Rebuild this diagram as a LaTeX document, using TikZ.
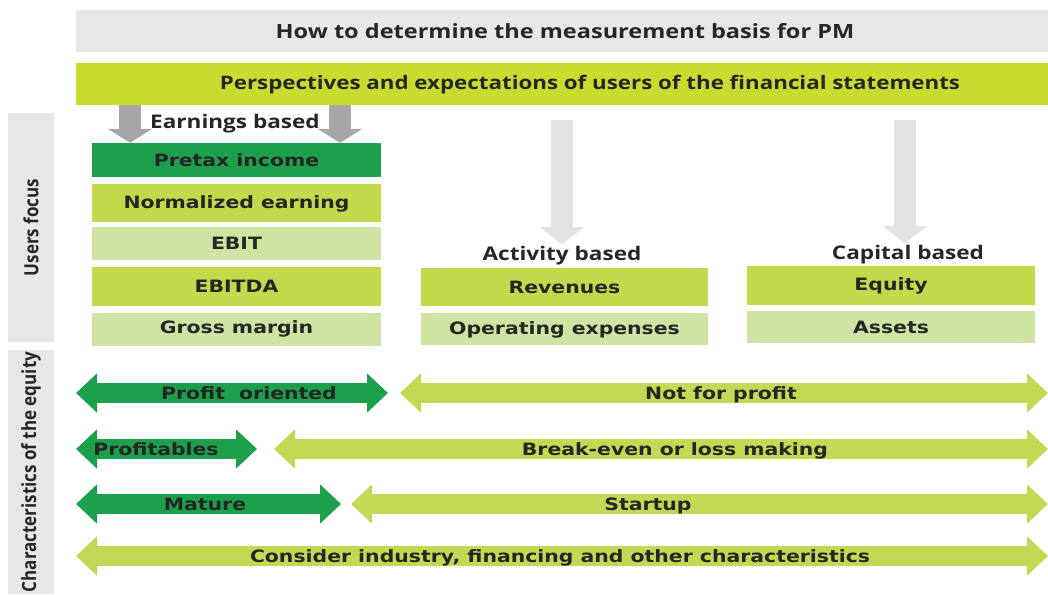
\documentclass[tikz,border=0pt]{standalone}
\usepackage{fontspec}
\setmainfont{DejaVu Sans}
\newfontfamily\headfont{Open Sans}
\usepackage{graphicx}
\usetikzlibrary{positioning, arrows.meta}
\definecolor{panelgray}{HTML}{E6E7E9}
\definecolor{barlime}{HTML}{C8DB2E}
\definecolor{darkgreen}{HTML}{1DA04C}
\definecolor{limebox}{HTML}{C4D84C}
\definecolor{palebox}{HTML}{CFE3A3}
\definecolor{arrowlime}{HTML}{C4D953}
\definecolor{midgray}{HTML}{A6A6A6}
\definecolor{palegray}{HTML}{E3E3E3}
\definecolor{ink}{HTML}{262626}
\newcommand{\wide}[1]{\scalebox{1.2}[1]{#1}}
\tikzset{
x=1pt, y=-1pt, % one unit is one pixel of the reference, y grows downwards
>={Triangle[length=21pt,width=38pt]}, % heads of the wide arrows
every node/.style={text=ink},
headtext/.style={font=\headfont\bfseries\fontsize{18.8}{22}\selectfont},
toptext/.style={font=\headfont\bfseries\fontsize{19.6}{23}\selectfont},
bartext/.style={font=\headfont\bfseries\fontsize{18.6}{22}\selectfont},
sidetext/.style={font=\headfont\bfseries\fontsize{17}{20}\selectfont},
bodytext/.style={font=\bfseries\fontsize{17}{20}\selectfont},
panel/.style={fill=panelgray, inner sep=0pt}, % grey title and side panels
datbox/.style={bodytext, minimum width=289pt, inner sep=0pt},
darkfill/.style={datbox, fill=darkgreen},
limefill/.style={datbox, fill=limebox},
palefill/.style={datbox, fill=palebox},
greenarrow/.style={draw=darkgreen, line width=20pt, <->},
limearrow/.style={draw=arrowlime, line width=20pt, <->},
arrowtext/.style={bodytext, inner sep=0pt, anchor=base}, % placed on the baseline
downgray/.style={draw=midgray, line width=22pt, -{Triangle[length=14pt,width=44pt]}},
downpale/.style={draw=palegray, line width=22pt, -{Triangle[length=17pt,width=44pt]}},
}
\begin{document}
\begin{tikzpicture}
\useasboundingbox (0,0) rectangle (1048,594);

% header bars
\node[panel, minimum width=972pt, minimum height=42pt] (title) at (562,31) {};
\node[toptext] at (565,31) {\wide{How to determine the measurement basis for PM}};
\node[panel, fill=barlime, minimum width=972pt, minimum height=42pt] (persp) at (562,84) {};
\node[bartext] at (590,85) {\wide{Perspectives and expectations of users of the financial statements}};

% side panels
\node[panel, minimum width=46pt, minimum height=229pt] (users) at (31,227.5) {};
\node[sidetext, rotate=90] at (users) {\scalebox{1}[1.15]{Users focus}};
\node[panel, minimum width=46pt, minimum height=244pt] (chars) at (31,472) {};
\node[sidetext, rotate=90] at (chars) {\scalebox{1}[1.15]{Characteristics of the equity}};

% earnings based
\node[darkfill, minimum height=34pt] (pretax) at (236.5,160) {\wide{Pretax income}};
\node[limefill, minimum height=38pt, below=7pt of pretax] (norm) {\wide{Normalized earning}};
\node[palefill, minimum height=33pt, below=4pt of norm] (ebit) {\wide{EBIT}};
\node[limefill, minimum height=39pt, below=7pt of ebit] (ebitda) {\wide{EBITDA}};
\node[palefill, minimum height=33pt, below=6pt of ebitda] (gross) {\wide{Gross margin}};
\draw[downgray] (persp.south -| 130,0) -- (pretax.north -| 130,0);
\draw[downgray] (persp.south -| 340,0) -- (pretax.north -| 340,0);
\node[headtext] (earn) at (235,124) {\wide{Earnings based}};

% activity based
\node[limefill, minimum width=287pt, minimum height=38pt] (rev) at (564.5,287) {\wide{Revenues}};
\node[palefill, minimum width=287pt, minimum height=32pt, below=7pt of rev] (opex) {\wide{Operating expenses}};
\node[headtext] (act) at (562,256) {\wide{Activity based}};
\draw[downpale] ([yshift=-15pt]persp.south -| act) -- ([yshift=-1pt]act.north);

% capital based
\node[limefill, minimum width=288pt, minimum height=39pt] (equity) at (891,285.5) {\wide{Equity}};
\node[palefill, minimum width=288pt, minimum height=32pt, below=6pt of equity] (assets) {\wide{Assets}};
\node[headtext] (cap) at (908,255) {\wide{Capital based}};
\draw[downpale] ([yshift=-15pt]persp.south -| 905,0) -- ([yshift=-1pt]cap.north -| 905,0);

% characteristics of the equity
\draw[greenarrow] (76,393) -- (388,393);
\draw[limearrow] (400,393) -- (1048,393);
\node[arrowtext] (profit) at (249,399.5) {\wide{Profit\ \ oriented}};
\node[arrowtext] (nonprofit) at (721,399.5) {\wide{Not for profit}};

\draw[greenarrow] (76,449) -- (257,449);
\draw[limearrow] (274,449) -- (1048,449);
\node[arrowtext] (profitable) at (156,455.5) {\wide{Profitables}};
\node[arrowtext] (loss) at (675,455.5) {\wide{Break-even or loss making}};

\draw[greenarrow] (76,504) -- (341,504);
\draw[limearrow] (351,504) -- (1048,504);
\node[arrowtext] (mature) at (205,510.5) {\wide{Mature}};
\node[arrowtext] (startup) at (648,510.5) {\wide{Startup}};

\draw[limearrow] (76,556) -- (1048,556);
\node[arrowtext] (other) at (560,562.5) {\wide{Consider industry, financing and other characteristics}};
\end{tikzpicture}
\end{document}
